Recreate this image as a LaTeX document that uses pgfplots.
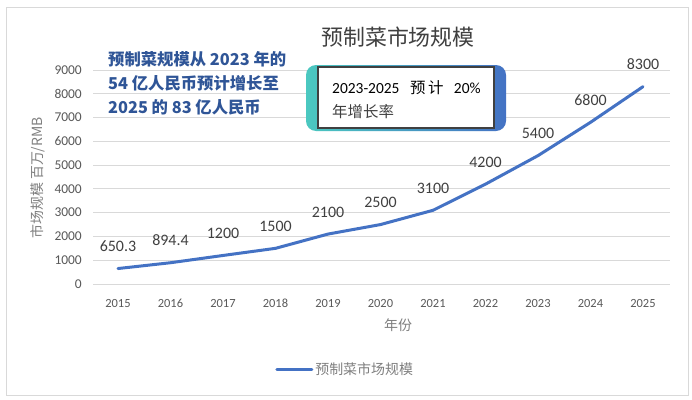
\documentclass[border=0pt]{standalone}
\usepackage{pgfplots}
\pgfplotsset{compat=1.18}
\usepackage{pgfplotstable}
\usepackage{fontspec}
\setmainfont{Carlito}
\newfontfamily\cjk{Noto Sans CJK SC}
\definecolor{lineblue}{HTML}{4472C4}
\definecolor{gridgray}{HTML}{D9D9D9}
\definecolor{txtgray}{HTML}{595959}
\definecolor{lblgray}{HTML}{404040}
\definecolor{axgray}{HTML}{7F7F7F}
\definecolor{darkblue}{HTML}{2F5597}
\definecolor{teal}{HTML}{4BC8C0}
\pgfplotstableread{
year value label
2015 650.3 650.3
2016 894.4 894.4
2017 1200 1200
2018 1500 1500
2019 2100 2100
2020 2500 2500
2021 3100 3100
2022 4200 4200
2023 5400 5400
2024 6800 6800
2025 8300 8300
}\datatable
\begin{document}
\begin{tikzpicture}[x=1bp,y=1bp]
\useasboundingbox (0,0) rectangle (692,399);
\fill[white] (0,0) rectangle (692,399);
\draw[gridgray, line width=0.8bp] (6,4) rectangle (688,392);
\begin{axis}[
  at={(93bp,115bp)}, anchor=south west,
  scale only axis, width=577bp, height=214bp,
  xmin=2014.524, xmax=2025.514, ymin=0, ymax=9000,
  xtick={2015,...,2025}, ytick={0,1000,...,9000},
  /pgf/number format/assume math mode=true,
  /pgf/number format/1000 sep={},
  axis line style={draw=none},
  major tick length=0,
  ymajorgrids, grid style={gridgray, line width=0.8bp},
  xticklabel style={font=\fontsize{12.5}{14}\selectfont, text=txtgray, anchor=north, inner sep=0, yshift=-15bp},
  yticklabel style={font=\fontsize{13.5}{15}\selectfont, text=txtgray, anchor=east, inner sep=0, xshift=-11bp},
  legend style={at={(0.437,-0.40)}, anchor=center, draw=none, fill=none,
    font=\cjk\fontsize{14}{16}\selectfont, text=axgray},
  legend image code/.code={\draw[#1, line width=3bp] (0bp,0bp) -- (35bp,0bp);},
  clip=false,
]
\addplot[lineblue, line width=3bp, line join=round, line cap=round,
  nodes near coords, point meta=explicit symbolic,
  every node near coord/.append style={font=\fontsize{16}{18}\selectfont, text=lblgray, anchor=base, yshift=17bp, inner sep=0}]
  table[x=year, y=value, meta=label] {\datatable};
\addlegendentry{预制菜市场规模}
\end{axis}
% axis labels
\node[font=\cjk\fontsize{14}{16}\selectfont, text=axgray] at (398,74) {年份};
\node[font=\cjk\fontsize{14}{16}\selectfont, text=axgray, rotate=90] at (38,221) {市场规模 百万/RMB};
% title
\node[font=\cjk\fontsize{22}{26}\selectfont, text=lblgray] at (398,362) {预制菜市场规模};
% blue annotation
\node[anchor=north west, inner sep=0, align=left, text=darkblue,
  font=\cjk\bfseries\fontsize{16.4}{24}\selectfont] at (108,348)
  {预制菜规模从 2023 年的\\54 亿人民币预计增长至\\2025 的 83 亿人民币};
% gradient box
\shade[left color=teal, right color=lineblue, rounded corners=10bp] (306,268) rectangle (506,334);
\draw[fill=white, draw=lblgray, line width=1.2bp] (318,271) rectangle (494,332);
\node[anchor=base west, inner sep=0, font=\fontsize{15.5}{18}\selectfont, text=black] at (332,306)
  {2023-2025\ \ \ {\cjk 预\,计}\ \ \ 20\%};
\node[anchor=base west, inner sep=0, font=\cjk\fontsize{15.5}{18}\selectfont, text=lblgray] at (332,282)
  {年增长率};
\end{tikzpicture}
\end{document}
